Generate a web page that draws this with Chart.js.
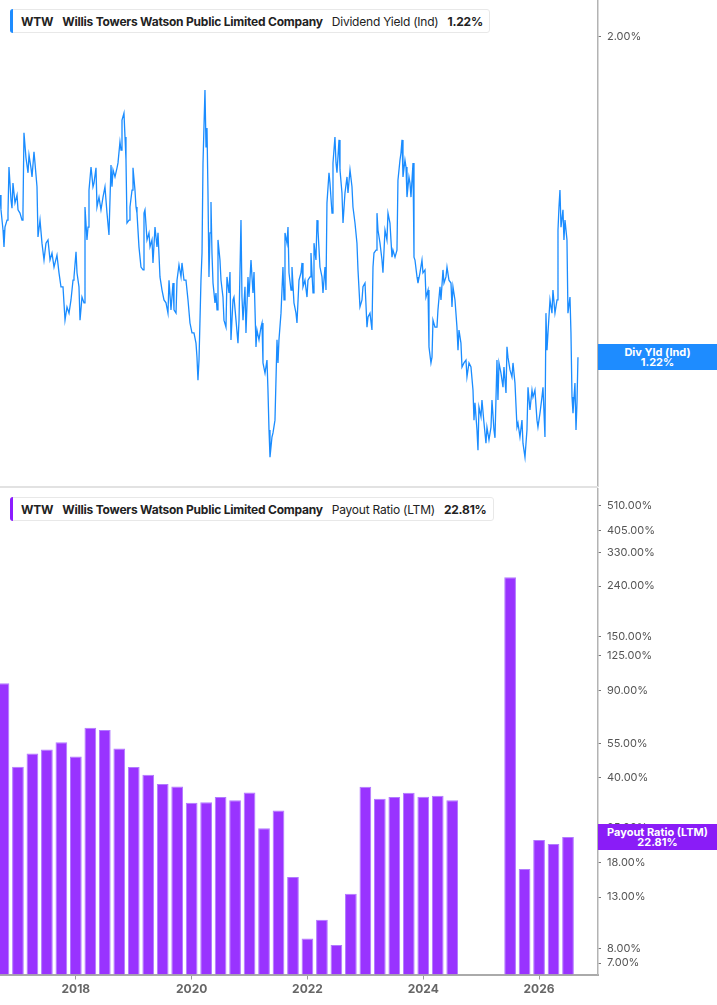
<!DOCTYPE html>
<html><head><meta charset="utf-8">
<script src="https://cdn.jsdelivr.net/npm/chart.js@4.4.1/dist/chart.umd.min.js"></script>
<style>
html,body{margin:0;padding:0;background:#fff;}
#wrap{position:relative;width:717px;height:1005px;overflow:hidden;font-family:Inter,"Noto Sans",sans-serif;}
#topBox{position:absolute;left:0;top:0;width:717px;height:487px;}
#botBox{position:absolute;left:0;top:488px;width:717px;height:517px;}
.sep{position:absolute;left:0;top:486px;width:598px;height:2px;background:#e2e2e2;}
.legend{position:absolute;left:10px;height:24px;box-sizing:border-box;border:1px solid #e8e8e8;border-radius:3px;background:#fff;display:flex;align-items:center;padding:0 6px 0 10px;font-size:12px;letter-spacing:-0.22px;color:#222;white-space:nowrap;}
.legend .acc{position:absolute;left:-1px;top:-1px;bottom:-1px;width:3px;border-radius:3px 0 0 3px;}
.legend b{font-weight:700;}
.legend .g{margin-left:9px;}
.vbox{position:absolute;left:598px;width:119px;height:26px;color:#fff;font-weight:700;font-size:11px;line-height:10.5px;text-align:center;display:flex;flex-direction:column;justify-content:center;}
</style></head>
<body>
<div id="wrap">
  <div id="topBox"><canvas id="topChart"></canvas></div>
  <div id="botBox"><canvas id="botChart"></canvas></div>
  <div class="sep"></div>
  <div class="legend" style="top:9px;"><span class="acc" style="background:#1e8cff"></span><b>WTW</b><b class="g">Willis Towers Watson Public Limited Company</b><span class="g">Dividend Yield (Ind)</span><b class="g" id="lgTop"></b></div>
  <div class="legend" style="top:497px;"><span class="acc" style="background:#8c1cff"></span><b>WTW</b><b class="g">Willis Towers Watson Public Limited Company</b><span class="g">Payout Ratio (LTM)</span><b class="g" id="lgBot"></b></div>
  <div class="vbox" id="divBox" style="background:#1e8cff"><div>Div Yld (Ind)</div><div id="divBoxV"></div></div>
  <div class="vbox" id="payBox" style="background:#8a1cf7"><div>Payout Ratio (LTM)</div><div id="payBoxV"></div></div>
</div>
<script>
// ---- Data ----
const yearTicks = [2018, 2020, 2022, 2024, 2026];
const yieldTicks = [2.0];
const payoutTicks = [7, 8, 13, 18, 25, 40, 55, 90, 125, 150, 240, 330, 405, 510];

const divDates = [
2016.690,2016.707,2016.742,2016.759,2016.776,2016.811,2016.828,2016.845,2016.880,2016.897,
2016.914,2016.949,2016.984,2017.001,2017.035,2017.070,2017.087,2017.104,2017.139,2017.174,
2017.191,2017.225,2017.243,2017.277,2017.294,2017.329,2017.346,2017.381,2017.415,2017.450,
2017.484,2017.519,2017.554,2017.588,2017.623,2017.674,2017.709,2017.743,2017.778,2017.813,
2017.847,2017.882,2017.916,2017.951,2017.968,2018.003,2018.020,2018.054,2018.072,2018.106,
2018.141,2018.158,2018.192,2018.210,2018.227,2018.262,2018.296,2018.313,2018.348,2018.365,
2018.400,2018.434,2018.469,2018.503,2018.538,2018.572,2018.607,2018.624,2018.642,2018.676,
2018.711,2018.728,2018.762,2018.780,2018.797,2018.831,2018.849,2018.866,2018.883,2018.918,
2018.935,2018.970,2018.987,2019.021,2019.039,2019.056,2019.090,2019.125,2019.160,2019.177,
2019.194,2019.229,2019.263,2019.281,2019.315,2019.332,2019.367,2019.401,2019.419,2019.453,
2019.488,2019.522,2019.557,2019.591,2019.609,2019.643,2019.678,2019.695,2019.730,2019.747,
2019.781,2019.816,2019.833,2019.868,2019.902,2019.937,2019.971,2020.006,2020.040,2020.075,
2020.092,2020.109,2020.127,
2020.161,2020.179,2020.196,2020.230,2020.248,2020.265,2020.282,2020.299,2020.317,2020.334,
2020.351,2020.369,2020.403,2020.420,2020.438,2020.455,2020.489,2020.507,2020.541,2020.558,
2020.593,2020.610,2020.645,2020.662,2020.679,2020.714,2020.731,2020.766,2020.800,2020.818,
2020.852,2020.869,2020.887,2020.921,2020.938,2020.973,2020.990,2021.025,2021.059,2021.077,
2021.111,2021.128,2021.163,2021.197,2021.215,2021.232,2021.267,2021.301,2021.318,2021.336,
2021.353,2021.387,2021.405,2021.439,2021.474,2021.491,2021.508,2021.543,2021.577,2021.595,
2021.612,2021.646,2021.664,2021.681,2021.716,2021.733,2021.767,2021.802,2021.819,2021.854,
2021.888,2021.906,2021.923,2021.957,2021.992,2022.009,2022.044,2022.061,2022.096,2022.113,
2022.147,2022.165,2022.182,2022.216,2022.251,2022.268,2022.303,2022.320,2022.337,2022.372,
2022.389,2022.424,2022.441,2022.475,2022.493,2022.510,2022.545,2022.562,2022.596,2022.614,
2022.648,2022.683,2022.700,2022.735,2022.769,2022.786,2022.821,2022.855,2022.873,2022.907,
2022.942,2022.959,2022.994,2023.028,2023.046,2023.080,2023.114,2023.132,2023.149,2023.184,
2023.201,2023.218,2023.253,2023.287,2023.304,2023.339,2023.373,2023.391,2023.425,2023.460,
2023.477,2023.512,2023.546,2023.563,2023.598,
2023.615,2023.633,2023.650,2023.684,2023.702,2023.719,2023.753,2023.771,2023.788,2023.823,
2023.840,2023.857,2023.892,2023.909,2023.943,2023.978,2023.995,2024.030,2024.047,2024.082,
2024.099,2024.133,2024.151,2024.168,2024.202,2024.237,2024.254,2024.289,2024.306,2024.341,
2024.358,2024.392,2024.410,2024.444,2024.479,2024.496,2024.513,2024.548,2024.582,2024.600,
2024.617,2024.651,2024.669,2024.703,2024.738,2024.755,2024.790,2024.824,2024.859,2024.876,
2024.893,2024.928,2024.945,2024.962,2024.997,2025.014,2025.049,2025.083,2025.100,2025.135,
2025.170,2025.187,2025.221,2025.239,2025.273,2025.290,2025.308,2025.342,2025.377,2025.394,
2025.429,2025.446,2025.463,2025.498,2025.532,2025.550,2025.584,2025.619,2025.636,2025.670,
2025.705,2025.722,2025.757,2025.791,2025.809,2025.843,2025.878,2025.895,2025.929,2025.964,
2025.981,2026.016,2026.050,2026.068,2026.102,2026.119,2026.137,2026.154,2026.189,2026.223,
2026.240,2026.275,2026.310,2026.327,2026.344,2026.361,2026.379,2026.413,2026.430,2026.448,
2026.482,2026.499,2026.534,2026.551,2026.569,2026.586,2026.620,2026.638,2026.655,2026.672
];
const divYield = [
1.616,1.580,1.531,1.490,1.538,1.555,1.572,1.684,1.604,1.584,
1.645,1.597,1.616,1.580,1.572,1.555,1.580,1.767,1.706,1.670,
1.713,1.682,1.660,1.721,1.694,1.636,1.514,1.555,1.499,1.458,
1.499,1.507,1.458,1.475,1.441,1.470,1.427,1.393,1.393,1.312,
1.344,1.329,1.361,1.409,1.417,1.478,1.427,1.393,1.312,1.368,
1.354,1.587,1.507,1.538,1.628,1.684,1.636,1.645,1.682,1.587,
1.611,1.580,1.611,1.636,1.572,1.519,1.689,1.636,1.677,1.660,
1.682,1.694,1.745,1.725,1.798,1.815,1.757,1.701,1.548,1.555,
1.587,1.628,1.682,1.628,1.587,1.572,1.490,1.441,1.434,1.572,
1.580,1.507,1.524,1.490,1.507,1.451,1.538,1.490,1.524,1.417,
1.385,1.361,1.354,1.329,1.409,1.337,1.402,1.337,1.329,1.409,
1.446,1.417,1.451,1.409,1.409,1.361,1.305,1.281,1.281,1.256,
1.222,1.166,1.215,
1.409,1.475,1.694,1.871,1.733,1.779,1.621,1.417,1.524,1.599,
1.475,1.402,1.354,1.378,1.337,1.507,1.458,1.409,1.368,1.312,
1.295,1.417,1.378,1.429,1.264,1.361,1.368,1.312,1.256,1.312,
1.555,1.368,1.312,1.393,1.281,1.417,1.368,1.458,1.378,1.429,
1.247,1.288,1.264,1.295,1.305,1.208,1.183,1.215,1.142,1.045,
0.979,1.028,1.038,1.069,1.264,1.208,1.264,1.329,1.441,1.361,
1.524,1.499,1.538,1.427,1.385,1.441,1.354,1.329,1.305,1.409,
1.427,1.451,1.393,1.409,1.368,1.409,1.417,1.475,1.378,1.499,
1.458,1.555,1.531,1.441,1.417,1.378,1.441,1.385,1.597,1.670,
1.645,1.572,1.694,1.757,1.694,1.670,1.750,1.677,1.621,1.548,
1.621,1.660,1.621,1.677,1.636,1.587,1.548,1.499,1.434,1.344,
1.361,1.393,1.402,1.295,1.320,1.329,1.288,1.441,1.475,1.482,
1.572,1.531,1.499,1.458,1.427,1.531,1.507,1.572,1.548,1.465,
1.482,1.465,1.482,1.652,1.701,
1.718,1.750,1.660,1.701,1.684,1.611,1.660,1.645,1.611,1.694,
1.465,1.458,1.417,1.402,1.427,1.458,1.427,1.434,1.368,1.385,
1.247,1.208,1.222,1.312,1.295,1.295,1.337,1.393,1.361,1.434,
1.402,1.417,1.441,1.409,1.402,1.344,1.393,1.361,1.295,1.239,
1.288,1.256,1.198,1.208,1.215,1.174,1.208,1.198,1.142,1.069,
1.111,1.045,0.996,1.101,1.077,1.118,1.062,1.013,1.052,1.021,
1.052,1.118,1.045,1.026,1.215,1.118,1.208,1.183,1.149,1.198,
1.135,1.247,1.222,1.191,1.174,1.208,1.159,1.052,1.062,1.028,
1.069,1.013,0.979,1.045,1.149,1.094,1.142,1.125,1.142,1.069,
1.052,1.086,1.125,1.149,1.028,1.329,1.239,1.281,1.361,1.329,
1.385,1.329,1.361,1.531,1.587,1.628,1.538,1.580,1.507,1.555,
1.507,1.329,1.368,1.281,1.125,1.086,1.159,1.045,1.111,1.222
];

const barDates = [
2016.75,2017.00,2017.25,2017.50,2017.75,2018.00,2018.25,2018.50,2018.75,2019.00,
2019.25,2019.50,2019.75,2020.00,2020.25,2020.50,2020.75,2021.00,2021.25,2021.50,
2021.75,2022.00,2022.25,2022.50,2022.75,2023.00,2023.25,2023.50,2023.75,2024.00,
2024.25,2024.50,2024.75,2025.00,2025.25,2025.50,2025.75,2026.00,2026.25,2026.50
];
const payoutRatio = [
96.5,44.1,50.0,51.9,55.5,48.6,63.6,62.3,52.4,44.0,
40.9,37.5,36.7,31.5,31.6,33.2,32.2,34.7,24.8,29.3,
15.7,8.82,10.5,8.29,13.4,36.6,32.7,33.2,34.6,33.3,
33.6,32.2,null,null,null,261,16.9,22.2,21.4,22.81
];

// ---- Axis ranges ----
const X_MIN = 2016.69, X_MAX = 2027.018;
const YLD_MIN = 0.9065, YLD_MAX = 2.0899;
const PAY_MIN = 6.29, PAY_MAX = 602.5;

const lastYield = divYield[divYield.length - 1];
const lastPayout = payoutRatio[payoutRatio.length - 1];
document.getElementById('lgTop').textContent = lastYield.toFixed(2) + '%';
document.getElementById('lgBot').textContent = lastPayout.toFixed(2) + '%';
document.getElementById('divBoxV').textContent = lastYield.toFixed(2) + '%';
document.getElementById('payBoxV').textContent = lastPayout.toFixed(2) + '%';

const FONT = 'Inter, "Noto Sans", sans-serif';

const valueBoxPlugin = {
  id: 'valueBox',
  afterRender(chart, args, opts) {
    const el = document.getElementById(opts.el);
    const y = chart.scales.y.getPixelForValue(opts.value);
    el.style.top = (opts.offset + y - 13) + 'px';
  }
};

function zeroPad(s) { s.paddingTop = 0; s.paddingBottom = 0; s.paddingLeft = 0; s.paddingRight = 0; }

const yAxisCommon = {
  position: 'right',
  grid: { drawOnChartArea: false, drawTicks: true, tickLength: 3, color: '#777', lineWidth: 1 },
  border: { display: true, color: '#b3b3b3', width: 1.5 },
  ticks: { padding: 6, color: '#555', font: { family: FONT, size: 11 }, autoSkip: false,
           callback: v => Number(v).toFixed(2) + '%' }
};

new Chart(document.getElementById('topChart'), {
  type: 'line',
  data: {
    datasets: [{
      data: divDates.map((d, i) => ({ x: d, y: divYield[i] })),
      borderColor: '#1a8cff',
      borderWidth: 1.3,
      pointRadius: 0,
      tension: 0,
      fill: false
    }]
  },
  options: {
    responsive: true, maintainAspectRatio: false, animation: false,
    layout: { padding: 0 },
    plugins: { legend: { display: false }, tooltip: { enabled: false },
               valueBox: { el: 'divBox', value: lastYield, offset: 0 } },
    scales: {
      x: { type: 'linear', min: X_MIN, max: X_MAX, display: false, offset: false },
      y: Object.assign({}, yAxisCommon, {
        type: 'linear', min: YLD_MIN, max: YLD_MAX,
        afterBuildTicks: s => { s.ticks = yieldTicks.map(v => ({ value: v })); },
        afterFit: s => { s.width = 119; zeroPad(s); }
      })
    }
  },
  plugins: [valueBoxPlugin]
});

new Chart(document.getElementById('botChart'), {
  type: 'bar',
  data: {
    datasets: [{
      data: barDates.map((d, i) => ({ x: d, y: payoutRatio[i] })),
      backgroundColor: '#9933ff',
      borderColor: '#b27aff',
      borderWidth: 1,
      barPercentage: 0.81,
      categoryPercentage: 1.0
    }]
  },
  options: {
    responsive: true, maintainAspectRatio: false, animation: false,
    layout: { padding: 0 },
    plugins: { legend: { display: false }, tooltip: { enabled: false },
               valueBox: { el: 'payBox', value: lastPayout, offset: 488 } },
    scales: {
      x: {
        type: 'linear', min: X_MIN, max: X_MAX, offset: false, position: 'bottom',
        grid: { drawOnChartArea: false, drawTicks: true, tickLength: 5, color: '#999', offset: false },
        border: { display: true, color: '#aaaaaa', width: 2 },
        ticks: { padding: 3, color: '#666', font: { family: FONT, size: 12, weight: 'bold' },
                 autoSkip: false, maxRotation: 0, callback: v => String(v) },
        afterBuildTicks: s => { s.ticks = yearTicks.map(v => ({ value: v })); },
        afterFit: s => { s.height = 30.5; zeroPad(s); }
      },
      y: Object.assign({}, yAxisCommon, {
        type: 'logarithmic', min: PAY_MIN, max: PAY_MAX,
        afterBuildTicks: s => { s.ticks = payoutTicks.map(v => ({ value: v })); },
        afterFit: s => { s.width = 119; zeroPad(s); }
      })
    }
  },
  plugins: [valueBoxPlugin]
});
</script>
</body></html>
